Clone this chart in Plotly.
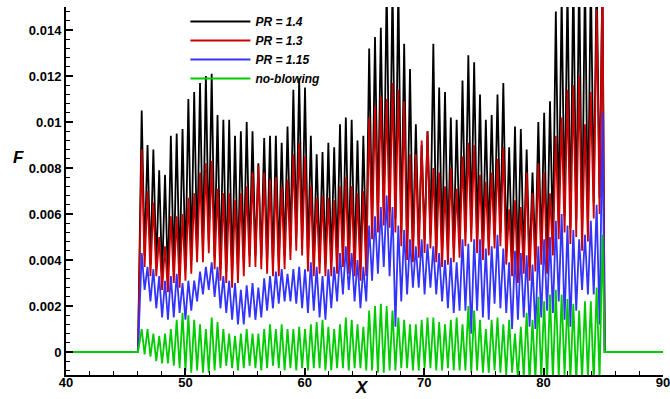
import plotly.graph_objects as go

# ---- data (local maxima / minima of each signal) ----
x_first_peak = 46.34      # x of first maximum
spacing = 0.4885          # distance between successive maxima
x_on = 46.03              # blowing region start
x_off = 85.12             # blowing region end
x_min, x_max = 40, 90
x_tick_vals = [40, 50, 60, 70, 80, 90]
x_tick_text = ["40", "50", "60", "70", "80", "90"]

black_peaks = [0.0105, 0.0090, 0.0088, 0.0079, 0.0077, 0.0094, 0.0095, 0.0097, 0.0110, 0.0113,
               0.0117, 0.0120, 0.0121, 0.0103, 0.0101, 0.0101, 0.0094, 0.0096, 0.0100, 0.0096,
               0.0082, 0.0093, 0.0094, 0.0094, 0.0091, 0.0098, 0.0114, 0.0119, 0.0115, 0.0094,
               0.0086, 0.0087, 0.0091, 0.0089, 0.0099, 0.0102, 0.0101, 0.0092, 0.0094, 0.0132,
               0.0137, 0.0141, 0.0160, 0.0160, 0.0160, 0.0134, 0.0123, 0.0099, 0.0090, 0.0096,
               0.0134, 0.0115, 0.0113, 0.0102, 0.0101, 0.0118, 0.0129, 0.0126, 0.0112, 0.0101,
               0.0103, 0.0112, 0.0117, 0.0089, 0.0098, 0.0097, 0.0088, 0.0078, 0.0100, 0.0104,
               0.0109, 0.0148, 0.0155, 0.0160, 0.0165, 0.0165, 0.0165, 0.0165, 0.0165, 0.0165]
black_troughs = [0.0042, 0.0038, 0.0037, 0.0032, 0.0031, 0.0035, 0.0034, 0.0036, 0.0040, 0.0044,
                 0.0045, 0.0048, 0.0041, 0.0036, 0.0035, 0.0034, 0.0036, 0.0039, 0.0042, 0.0042,
                 0.0041, 0.0040, 0.0038, 0.0039, 0.0042, 0.0046, 0.0050, 0.0048, 0.0041, 0.0038,
                 0.0039, 0.0038, 0.0039, 0.0040, 0.0043, 0.0040, 0.0038, 0.0036, 0.0039, 0.0056,
                 0.0059, 0.0062, 0.0061, 0.0058, 0.0052, 0.0046, 0.0044, 0.0047, 0.0049, 0.0051,
                 0.0045, 0.0043, 0.0044, 0.0045, 0.0047, 0.0052, 0.0054, 0.0049, 0.0046, 0.0048,
                 0.0051, 0.0052, 0.0044, 0.0039, 0.0036, 0.0040, 0.0037, 0.0041, 0.0044, 0.0040,
                 0.0048, 0.0056, 0.0059, 0.0054, 0.0057, 0.0051, 0.0055, 0.0065, 0.0067]

red_peaks = [0.0088, 0.0070, 0.0065, 0.0050, 0.0046, 0.0059, 0.0059, 0.0060, 0.0067, 0.0069,
             0.0078, 0.0082, 0.0083, 0.0071, 0.0069, 0.0069, 0.0066, 0.0069, 0.0072, 0.0078,
             0.0081, 0.0078, 0.0075, 0.0076, 0.0072, 0.0075, 0.0086, 0.0091, 0.0085, 0.0072,
             0.0067, 0.0068, 0.0067, 0.0066, 0.0072, 0.0076, 0.0072, 0.0069, 0.0070, 0.0102,
             0.0107, 0.0111, 0.0110, 0.0117, 0.0114, 0.0109, 0.0086, 0.0086, 0.0092, 0.0096,
             0.0080, 0.0078, 0.0072, 0.0080, 0.0071, 0.0085, 0.0091, 0.0090, 0.0077, 0.0074,
             0.0078, 0.0084, 0.0089, 0.0062, 0.0066, 0.0063, 0.0078, 0.0069, 0.0082, 0.0078,
             0.0069, 0.0094, 0.0102, 0.0114, 0.0116, 0.0120, 0.0099, 0.0113, 0.0149, 0.0165]
red_troughs = [0.0037, 0.0033, 0.0033, 0.0027, 0.0026, 0.0030, 0.0028, 0.0031, 0.0034, 0.0039,
               0.0039, 0.0043, 0.0036, 0.0031, 0.0030, 0.0028, 0.0030, 0.0033, 0.0037, 0.0037,
               0.0036, 0.0034, 0.0033, 0.0033, 0.0036, 0.0040, 0.0044, 0.0042, 0.0035, 0.0033,
               0.0034, 0.0033, 0.0033, 0.0034, 0.0037, 0.0034, 0.0033, 0.0031, 0.0033, 0.0049,
               0.0052, 0.0055, 0.0054, 0.0052, 0.0046, 0.0040, 0.0039, 0.0041, 0.0043, 0.0045,
               0.0039, 0.0037, 0.0038, 0.0039, 0.0041, 0.0046, 0.0048, 0.0043, 0.0040, 0.0042,
               0.0045, 0.0046, 0.0038, 0.0033, 0.0030, 0.0034, 0.0031, 0.0035, 0.0038, 0.0034,
               0.0042, 0.0049, 0.0052, 0.0047, 0.0050, 0.0044, 0.0048, 0.0058, 0.0060]

blue_peaks = [0.0043, 0.0037, 0.0036, 0.0033, 0.0031, 0.0033, 0.0034, 0.0030, 0.0031, 0.0031,
              0.0035, 0.0037, 0.0039, 0.0037, 0.0033, 0.0031, 0.0030, 0.0027, 0.0029, 0.0030,
              0.0028, 0.0032, 0.0033, 0.0035, 0.0036, 0.0034, 0.0036, 0.0037, 0.0036, 0.0039,
              0.0037, 0.0033, 0.0036, 0.0037, 0.0043, 0.0046, 0.0043, 0.0040, 0.0037, 0.0055,
              0.0059, 0.0063, 0.0068, 0.0063, 0.0055, 0.0053, 0.0049, 0.0046, 0.0049, 0.0047,
              0.0046, 0.0043, 0.0040, 0.0041, 0.0039, 0.0049, 0.0047, 0.0049, 0.0049, 0.0045,
              0.0046, 0.0051, 0.0045, 0.0039, 0.0044, 0.0043, 0.0042, 0.0038, 0.0046, 0.0049,
              0.0050, 0.0057, 0.0060, 0.0055, 0.0053, 0.0049, 0.0051, 0.0057, 0.0064, 0.0104]
blue_troughs = [0.0027, 0.0022, 0.0019, 0.0015, 0.0014, 0.0015, 0.0017, 0.0014, 0.0018, 0.0022,
                0.0025, 0.0027, 0.0024, 0.0019, 0.0017, 0.0014, 0.0012, 0.0012, 0.0015, 0.0014,
                0.0015, 0.0018, 0.0019, 0.0021, 0.0022, 0.0022, 0.0021, 0.0019, 0.0017, 0.0018,
                0.0015, 0.0014, 0.0019, 0.0022, 0.0025, 0.0027, 0.0022, 0.0019, 0.0022, 0.0031,
                0.0034, 0.0037, 0.0033, 0.0011, 0.0022, 0.0025, 0.0028, 0.0028, 0.0025, 0.0028,
                0.0025, 0.0022, 0.0019, 0.0017, 0.0018, 0.0018, 0.0008, 0.0018, 0.0015, 0.0014,
                0.0021, 0.0019, 0.0017, 0.0010, 0.0014, 0.0015, 0.0011, 0.0010, 0.0015, 0.0018,
                0.0017, 0.0022, 0.0014, 0.0011, 0.0018, 0.0027, 0.0025, 0.0025, 0.0012]

green_peaks = [0.0010, 0.0010, 0.0008, 0.0007, 0.0008, 0.0010, 0.0014, 0.0017, 0.0016, 0.0014,
               0.0012, 0.0010, 0.0015, 0.0013, 0.0010, 0.0008, 0.0007, 0.0008, 0.0010, 0.0008,
               0.0008, 0.0010, 0.0012, 0.0010, 0.0012, 0.0010, 0.0010, 0.0011, 0.0010, 0.0012,
               0.0013, 0.0014, 0.0011, 0.0010, 0.0012, 0.0015, 0.0014, 0.0012, 0.0011, 0.0018,
               0.0020, 0.0021, 0.0020, 0.0018, 0.0015, 0.0014, 0.0012, 0.0012, 0.0014, 0.0015,
               0.0015, 0.0013, 0.0012, 0.0014, 0.0015, 0.0012, 0.0020, 0.0018, 0.0014, 0.0010,
               0.0014, 0.0015, 0.0012, 0.0014, 0.0008, 0.0011, 0.0017, 0.0014, 0.0024, 0.0022,
               0.0025, 0.0027, 0.0025, 0.0023, 0.0021, 0.0018, 0.0022, 0.0022, 0.0028, 0.0051]
green_troughs = [-0.0001, -0.0002, -0.0004, -0.0005, -0.0005, -0.0006, -0.0007, -0.0008, -0.0009, -0.0008,
                 -0.0009, -0.0009, -0.0008, -0.0007, -0.0006, -0.0007, -0.0008, -0.0007, -0.0006, -0.0007,
                 -0.0008, -0.0007, -0.0006, -0.0007, -0.0008, -0.0007, -0.0008, -0.0007, -0.0008, -0.0007,
                 -0.0007, -0.0008, -0.0008, -0.0007, -0.0007, -0.0008, -0.0007, -0.0007, -0.0008, -0.0008,
                 -0.0009, -0.0009, -0.0008, -0.0008, -0.0007, -0.0007, -0.0008, -0.0008, -0.0007, -0.0007,
                 -0.0008, -0.0008, -0.0007, -0.0008, -0.0008, -0.0008, -0.0009, -0.0008, -0.0009, -0.0009,
                 -0.0008, -0.0009, -0.0010, -0.0009, -0.0012, -0.0011, -0.0013, -0.0012, -0.0011, -0.0013,
                 -0.0012, -0.0011, -0.0010, -0.0012, -0.0013, -0.0012, -0.0011, -0.0013, -0.0012]

series_names = ["<b><i>PR = 1.4</i></b>", "<b><i>PR = 1.3</i></b>",
                "<b><i>PR = 1.15</i></b>", "<b><i>no-blowing</i></b>"]
series_colors = ["#000000", "#cc0000", "#3333ff", "#00cc00"]


def build(peaks, troughs):
    xs, ys = [x_min, x_on], [0.0, 0.0]
    for i, p in enumerate(peaks):
        xp = x_first_peak + i * spacing
        xs.append(xp)
        ys.append(p)
        if i < len(troughs):
            xs.append(xp + spacing / 2)
            ys.append(troughs[i])
    xs += [x_off, x_max]
    ys += [0.0, 0.0]
    return xs, ys


fig = go.Figure()
for (pk, tr), name, col in zip(
        [(black_peaks, black_troughs), (red_peaks, red_troughs),
         (blue_peaks, blue_troughs), (green_peaks, green_troughs)],
        series_names, series_colors):
    xs, ys = build(pk, tr)
    fig.add_trace(go.Scatter(x=xs, y=ys, mode="lines", name=name,
                             line=dict(color=col, width=1.8)))

tickfont = dict(family="Liberation Sans, Arial, sans-serif", size=13, color="black", weight="bold")
fig.update_layout(
    width=670, height=399,
    margin=dict(l=66, r=7, t=7, b=24),
    paper_bgcolor="white", plot_bgcolor="white",
    showlegend=True,
    legend=dict(x=0.2, y=1.0, xanchor="left", yanchor="top", itemwidth=60,
                bgcolor="rgba(0,0,0,0)", borderwidth=0,
                font=dict(family="Liberation Sans, Arial, sans-serif", size=12, color="black")),
    xaxis=dict(range=[x_min, x_max], tickmode="array", tickvals=x_tick_vals, ticktext=x_tick_text,
               ticks="inside", ticklen=7, ticklabelstandoff=-6, ticklabeloverflow="allow",
               tickwidth=1.5, tickcolor="black", showline=True, linecolor="black", linewidth=2,
               showgrid=False, zeroline=False, tickfont=tickfont, automargin=False,
               minor=dict(tickmode="linear", tick0=40, dtick=2, ticks="inside", ticklen=4,
                          tickcolor="black", tickwidth=1.2)),
    yaxis=dict(range=[-0.001, 0.015], tick0=0, dtick=0.002, ticks="inside", ticklen=7,
               tickwidth=1.5, tickcolor="black", showline=True, linecolor="black", linewidth=2,
               showgrid=False, zeroline=False, tickfont=tickfont, automargin=False,
               minor=dict(dtick=0.0004, ticks="inside", ticklen=4, tickcolor="black", tickwidth=1.2)),
    annotations=[
        dict(text="<b><i>X</i></b>", xref="paper", yref="paper", x=0.496, y=0,
             xanchor="center", yanchor="top", yshift=-1, showarrow=False,
             font=dict(family="Liberation Sans, Arial, sans-serif", size=17, color="black")),
        dict(text="<b><i>F</i></b>", xref="paper", yref="paper", x=-0.08, y=0.59,
             xanchor="center", yanchor="middle", showarrow=False,
             font=dict(family="Liberation Sans, Arial, sans-serif", size=17, color="black")),
    ],
)

fig.write_html("out.html", config={"displayModeBar": False},
               post_script="document.body.style.margin='0';")
